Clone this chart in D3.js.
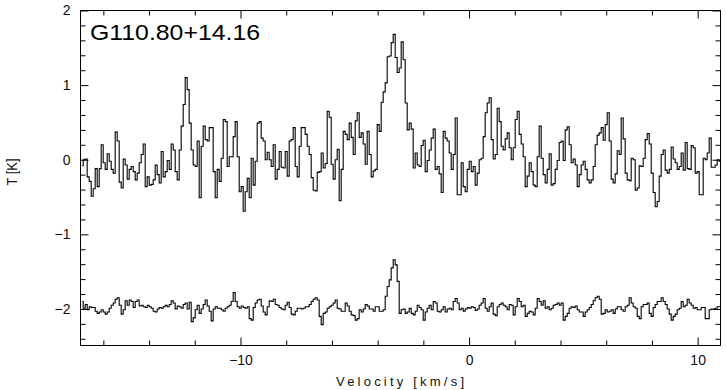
<!DOCTYPE html>
<html>
<head>
<meta charset="utf-8">
<script src="https://cdn.jsdelivr.net/npm/d3@7"></script>
<style>
  body { margin: 0; background: #fff; }
  svg { display: block; font-family: "Liberation Sans", Arial, Helvetica, sans-serif; }
</style>
</head>
<body>
<svg id="chart" width="726" height="390"></svg>
<script>
// spectrum channels: first channel edge and channel width (km/s)
var vStart = -16.97;
var dv = 0.0875;

// upper spectrum, T [K]
var tUpper = [
  -0.08, 0, 0.01, -0.23, -0.29, -0.49, -0.39, -0.12, -0.36, -0.12,
  0.2, -0.04, -0.13, 0.08, -0.02, -0.13, -0.18, 0.37, 0.25, -0.3,
  -0.38, 0.01, -0.07, -0.26, -0.13, -0.09, -0.16, -0.27, -0.18, -0.04,
  0.07, 0.21, -0.36, -0.23, -0.34, -0.33, -0.27, -0.07, -0.2, -0.31,
  0.11, -0.23, -0.16, -0.01, -0.13, 0.21, 0.13, -0.16, -0.27, 0.13,
  0.45, 0.74, 1.1, 0.94, 0.49, 0.13, -0.07, -0.09, 0.25, -0.51,
  0.18, 0.45, 0.27, 0.25, 0.43, 0.43, -0.16, -0.51, -0.13, -0.29,
  0.02, 0.54, 0.51, -0.09, 0.04, 0.04, 0.31, 0.51, 0.04, -0.43,
  -0.36, -0.69, -0.43, -0.25, -0.51, 0.02, -0.34, -0.02, 0.49, 0.51,
  0.29, 0.25, 0, 0.1, 0, -0.09, 0.2, -0.26, -0.13, 0.11,
  -0.1, -0.11, 0.11, -0.22, 0.25, 0.27, 0.43, -0.09, -0.23, 0.18,
  0.43, 0.43, 0.34, 0.18, 0.07, -0.24, -0.41, -0.42, -0.17, -0.16,
  0.09, -0.11, -0.05, 0.65, 0.57, -0.06, -0.26, 0, 0.14, -0.55,
  -0.13, 0.38, 0.34, 0.27, 0.49, 0.3, 0.07, 0.52, 0.63, 0.3,
  0.36, 0.21, -0.06, 0.38, 0.07, -0.23, -0.15, -0.13, 0.47, 0.38,
  0.77, 0.91, 1.03, 1.38, 1.39, 1.57, 1.68, 1.37, 1.17, 1.23,
  1.58, 1.34, 0.76, 0.4, 0.49, 0.41, -0.11, 0.09, -0.07, -0.09,
  0.19, 0.26, -0.16, -0.01, 0.13, 0.29, 0.41, -0.13, -0.09, -0.19,
  -0.44, 0.38, 0.29, 0.25, 0.09, -0.13, 0.07, 0.56, -0.47, -0.47,
  -0.04, -0.36, -0.43, -0.13, -0.02, -0.16, -0.09, -0.34, -0.18, 0,
  0.02, 0.31, 0.63, 0.76, 0.83, 0.27, 0.01, 0.07, 0.69, 0.51,
  0.18, 0.13, 0.28, 0.36, 0.16, 0, 0.16, 0.54, 0.65, 0.34,
  0.21, 0.04, -0.36, -0.22, -0.04, -0.16, -0.34, -0.36, 0.04, 0.45,
  0.02, -0.2, -0.31, -0.13, 0.08, -0.34, -0.32, -0.13, -0.01, 0.23,
  0.25, -0.01, 0.4, 0.44, 0.2, -0.04, 0.01, -0.07, -0.36, -0.2,
  -0.07, -0.02, -0.13, -0.27, -0.31, -0.27, -0.09, 0.2, 0.33, 0.36,
  0.43, 0.26, 0.47, 0.63, 0.25, -0.26, -0.31, -0.19, 0.12, 0.07,
  0.56, 0.28, -0.18, -0.27, -0.28, 0.02, 0, -0.41, -0.38, -0.08,
  -0.09, 0.02, 0.27, 0.35, 0.21, -0.18, -0.44, -0.63, -0.56, -0.22,
  0.07, 0.13, -0.14, -0.18, -0.13, 0.17, 0.01, -0.04, -0.13, -0.09,
  0.09, -0.14, 0.23, -0.12, -0.13, 0.19, 0.16, -0.18, -0.16, -0.47,
  -0.47, 0.02, 0, 0.09, 0.29, -0.1, -0.1, -0.07, 0, -0.02
];

// lower spectrum (plotted with -2 K offset)
var tLower = [
  -1.90, -1.99, -1.94, -2.01, -1.97, -1.98, -1.98, -2.03, -2.06, -2.04,
  -2.01, -2.04, -2.07, -2.04, -1.99, -1.95, -1.92, -1.87, -1.85, -1.95,
  -2.07, -2.01, -1.89, -1.95, -1.88, -1.90, -1.98, -1.90, -1.88, -1.96,
  -1.95, -1.97, -1.98, -1.95, -1.97, -1.99, -2.03, -2.04, -2.00, -1.98,
  -1.99, -1.97, -1.95, -1.97, -1.94, -1.89, -1.92, -2.00, -1.96, -1.97,
  -1.99, -1.94, -1.92, -2.00, -1.91, -2.17, -2.12, -2.01, -1.95, -2.06,
  -2.00, -1.94, -1.88, -1.96, -2.03, -2.16, -2.00, -1.97, -1.99, -1.99,
  -2.01, -2.03, -1.99, -1.97, -1.95, -1.90, -1.78, -1.90, -1.97, -1.99,
  -1.96, -1.98, -1.99, -1.97, -2.13, -2.15, -1.98, -1.92, -1.88, -1.87,
  -1.96, -2.04, -2.08, -1.97, -1.89, -1.90, -1.87, -1.94, -1.95, -1.98,
  -2.00, -2.01, -1.95, -1.91, -1.98, -2.07, -2.08, -2.03, -1.99, -1.99,
  -2.00, -1.99, -1.97, -1.97, -1.94, -1.90, -1.87, -1.85, -1.88, -2.10,
  -2.21, -2.06, -2.04, -1.99, -1.97, -1.95, -1.92, -1.88, -1.99, -2.00,
  -2.03, -2.03, -1.92, -1.96, -2.03, -2.08, -2.09, -2.15, -2.13, -2.01,
  -2.04, -2.00, -1.94, -1.96, -2.00, -2.00, -2.03, -1.97, -1.97, -2.03,
  -2.03, -2.01, -1.83, -1.70, -1.61, -1.45, -1.34, -1.41, -1.63, -2.06,
  -2.01, -2.00, -2.06, -2.04, -1.99, -2.06, -2.08, -2.03, -1.95, -1.98,
  -2.01, -2.15, -2.04, -1.99, -1.95, -2.01, -1.90, -1.92, -2.03, -2.04,
  -2.01, -1.97, -2.04, -2.00, -1.99, -2.01, -1.90, -1.86, -1.92, -2.01,
  -1.99, -2.03, -2.00, -1.98, -1.99, -1.97, -1.98, -2.02, -2.00, -1.95,
  -1.92, -1.86, -1.99, -2.03, -1.97, -1.92, -2.07, -2.09, -1.97, -1.94,
  -1.92, -1.95, -1.97, -2.01, -1.94, -1.95, -2.08, -1.97, -1.86, -1.90,
  -1.97, -1.95, -2.10, -2.06, -2.03, -2.04, -2.08, -1.99, -1.86, -1.90,
  -1.95, -1.89, -1.99, -1.97, -2.01, -1.99, -1.95, -1.94, -1.92, -1.95,
  -1.92, -2.15, -2.10, -2.06, -1.99, -1.97, -1.98, -1.96, -2.01, -2.04,
  -2.04, -2.10, -2.04, -2.01, -1.98, -1.94, -1.89, -1.85, -1.83, -1.87,
  -2.07, -2.06, -2.01, -2.04, -2.03, -2.01, -2.06, -2.00, -1.97, -1.97,
  -2.01, -2.03, -1.97, -1.95, -1.85, -1.92, -1.97, -1.99, -2.10, -2.13,
  -1.97, -1.94, -1.94, -1.92, -2.06, -2.10, -1.98, -1.94, -1.90, -1.90,
  -1.85, -1.90, -1.94, -2.00, -2.07, -2.15, -2.10, -2.07, -2.01, -1.99,
  -1.90, -1.97, -1.95, -1.87, -1.92, -1.95, -1.99, -1.98, -2.01, -2.01,
  -1.98, -1.98, -2.13, -2.13, -2.01, -2.00, -2.00, -1.99, -1.97, -1.97
];

var xTicksMajor = [-10, 0, 10];
var yTicksMajor = [-2, -1, 0, 1, 2];
var title = "G110.80+14.16";

// plot frame in pixels
var frameL = 80.5, frameR = 720.5, frameT = 10.5, frameB = 345.5;
var svg = d3.select("#chart");

var x = d3.scaleLinear().domain([-17, 11]).range([frameL, frameR]);
var y = d3.scaleLinear().domain([-2.49, 2]).range([frameB, frameT]);

// minor ticks every 2 km/s and every 0.2 K
var xMinor = d3.range(-16, 11, 2).filter(function(v){ return xTicksMajor.indexOf(v) < 0; });
var yMinor = d3.range(-24, 21, 2).map(function(v){ return v / 10; })
    .filter(function(v){ return Math.abs(v - Math.round(v)) > 1e-6; });

svg.append("defs").append("clipPath").attr("id", "clip")
  .append("rect")
  .attr("x", frameL).attr("y", frameT)
  .attr("width", frameR - frameL).attr("height", frameB - frameT);

function spectrum(vals) {
  return vals.map(function(t, i) {
    return { v: vStart + (i + 0.5) * dv, t: t };
  });
}

var line = d3.line()
  .x(function(d){ return x(d.v); })
  .y(function(d){ return y(d.t); })
  .curve(d3.curveStep);

var plot = svg.append("g").attr("clip-path", "url(#clip)");
[tUpper, tLower].forEach(function(s) {
  plot.append("path")
    .datum(spectrum(s))
    .attr("d", line)
    .attr("fill", "none")
    .attr("stroke", "#000")
    .attr("stroke-width", 1.1);
});

// axes with inward ticks on all four sides
var intFmt = d3.format("d");
function addAxis(axisFn, scale, ticks, size, labels, transform) {
  var a = axisFn(scale).tickValues(ticks).tickSizeInner(-size).tickSizeOuter(0).tickPadding(10);
  a.tickFormat(labels ? intFmt : "");
  var g = svg.append("g").attr("transform", transform).call(a);
  g.select(".domain").remove();
  g.selectAll("line").attr("stroke", "#000");
  g.selectAll("text").attr("fill", "#111").attr("font-size", 14);
  return g;
}

addAxis(d3.axisBottom, x, xTicksMajor, 8, true, "translate(0," + frameB + ")");
addAxis(d3.axisBottom, x, xMinor, 5, false, "translate(0," + frameB + ")");
addAxis(d3.axisTop, x, xTicksMajor, 8, false, "translate(0," + frameT + ")");
addAxis(d3.axisTop, x, xMinor, 5, false, "translate(0," + frameT + ")");
addAxis(d3.axisLeft, y, yTicksMajor, 8, true, "translate(" + frameL + ",0)");
addAxis(d3.axisLeft, y, yMinor, 5, false, "translate(" + frameL + ",0)");
addAxis(d3.axisRight, y, yTicksMajor, 8, false, "translate(" + frameR + ",0)");
addAxis(d3.axisRight, y, yMinor, 5, false, "translate(" + frameR + ",0)");

svg.append("rect")
  .attr("x", frameL).attr("y", frameT)
  .attr("width", frameR - frameL).attr("height", frameB - frameT)
  .attr("fill", "none").attr("stroke", "#000").attr("stroke-width", 1);

svg.append("text")
  .attr("x", 90).attr("y", 40)
  .attr("font-size", 22)
  .attr("textLength", 170)
  .attr("lengthAdjust", "spacingAndGlyphs")
  .text(title);

svg.append("text")
  .attr("x", 336).attr("y", 386)
  .attr("font-size", 13)
  .attr("fill", "#111")
  .attr("textLength", 128)
  .attr("lengthAdjust", "spacing")
  .text("Velocity [km/s]");

svg.append("text")
  .attr("transform", "translate(17,172) rotate(-90)")
  .attr("text-anchor", "middle")
  .attr("font-size", 14)
  .attr("fill", "#111")
  .attr("textLength", 27)
  .attr("lengthAdjust", "spacingAndGlyphs")
  .text("T [K]");
</script>
</body>
</html>
